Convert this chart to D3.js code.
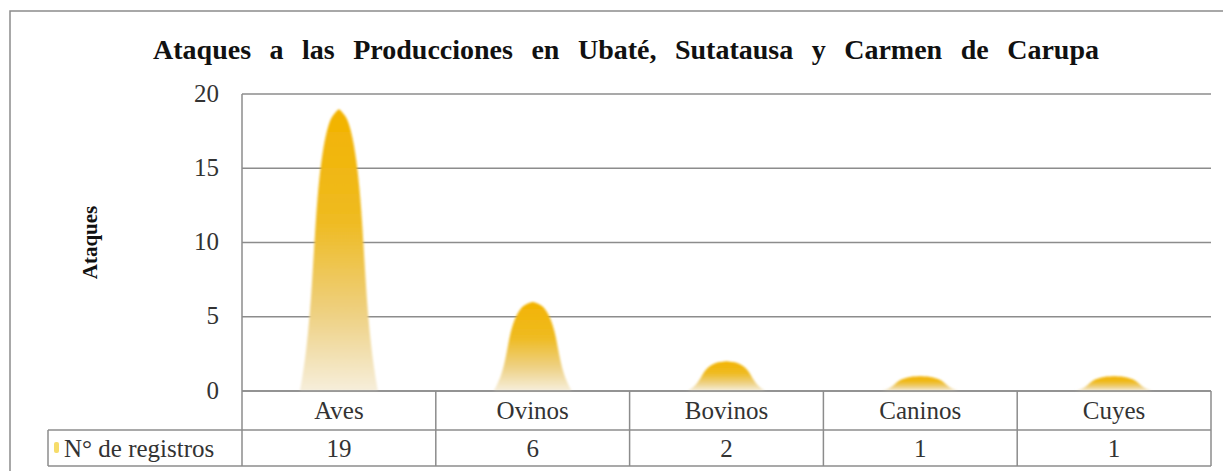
<!DOCTYPE html>
<html>
<head>
<meta charset="utf-8">
<script src="https://cdn.jsdelivr.net/npm/d3@7"></script>
<style>
    body { margin: 0; background: #fff; }
</style>
</head>
<body>
<script>
// data
var categories = ["Aves", "Ovinos", "Bovinos", "Caninos", "Cuyes"];
var registros = [19, 6, 2, 1, 1];
var yTicks = [0, 5, 10, 15, 20];
var seriesName = "N° de registros";
var chartTitle = "Ataques a las Producciones en Ubaté, Sutatausa y Carmen de Carupa";
var yTitle = "Ataques";

var width = 1223, height = 471;
var plot = { left: 242, right: 1211, top: 94, bottom: 391 };
var row1 = 430, row2 = 466, legendLeft = 48;
var serif = "Liberation Serif";

var svg = d3.select("body")
    .append("svg")
    .attr("width", width)
    .attr("height", height)
    .style("font-family", serif)
    .style("display", "block");

// outer frame (cut off at right and bottom like the picture)
svg.append("rect")
    .attr("x", 10).attr("y", 11)
    .attr("width", 1240).attr("height", 500)
    .attr("fill", "none")
    .attr("stroke", "#8c8c8c")
    .attr("stroke-width", 1.5);

svg.append("text")
    .attr("x", 626).attr("y", 59)
    .attr("text-anchor", "middle")
    .style("font-size", "28px")
    .style("font-weight", "bold")
    .style("word-spacing", "11.5px")
    .attr("fill", "#111")
    .text(chartTitle);

var x = d3.scaleBand()
    .domain(categories)
    .range([plot.left, plot.right]);

var y = d3.scaleLinear()
    .domain([0, 20])
    .range([plot.bottom, plot.top]);

// gradient for the peaks
var defs = svg.append("defs");
var grad = defs.append("linearGradient")
    .attr("id", "peak")
    .attr("x1", 0).attr("y1", 0)
    .attr("x2", 0).attr("y2", 1);
grad.append("stop").attr("offset", "0%").attr("stop-color", "#f3b300");
grad.append("stop").attr("offset", "40%").attr("stop-color", "#efbb22");
grad.append("stop").attr("offset", "72%").attr("stop-color", "#eed080");
grad.append("stop").attr("offset", "100%").attr("stop-color", "#f6eedb");

defs.append("filter")
    .attr("id", "soft")
    .append("feGaussianBlur")
    .attr("stdDeviation", 0.8);

// gridlines
svg.append("g")
    .selectAll("line")
    .data(yTicks)
    .enter().append("line")
    .attr("x1", plot.left).attr("x2", plot.right)
    .attr("y1", function (d) { return y(d); })
    .attr("y2", function (d) { return y(d); })
    .attr("stroke", "#8c8c8c")
    .attr("stroke-width", 1.5);

// tick labels
svg.append("g")
    .selectAll("text")
    .data(yTicks)
    .enter().append("text")
    .attr("x", 219)
    .attr("y", function (d) { return y(d); })
    .attr("dy", "0.3em")
    .attr("text-anchor", "end")
    .attr("fill", "#333")
    .style("font-size", "25px")
    .text(function (d) { return d; });

svg.append("text")
    .attr("transform", "translate(97," + ((plot.top + plot.bottom) / 2) + ") rotate(-90)")
    .attr("text-anchor", "middle")
    .style("font-size", "21px")
    .style("font-weight", "bold")
    .attr("fill", "#111")
    .text(yTitle);

// peak shape, base half-width hw, height h
function peakWidth(t) {
    return 0.66 * Math.sqrt(1 - Math.pow(t, 3)) + 0.34 * Math.pow(1 - t, 4);
}

function peakPath(cx, base, h, hw) {
    var pts = [];
    var n = 40;
    for (var i = 0; i <= n; i++) {
        pts.push([cx - hw * peakWidth(i / n), base - h * i / n]);
    }
    for (var j = n; j >= 0; j--) {
        pts.push([cx + hw * peakWidth(j / n), base - h * j / n]);
    }
    return d3.line().curve(d3.curveBasis)(pts) + "Z";
}

svg.append("g")
    .selectAll("path")
    .data(registros)
    .enter().append("path")
    .attr("d", function (d, i) {
        var cx = x(categories[i]) + x.bandwidth() / 2;
        return peakPath(cx, y(0), y(0) - y(d), 39);
    })
    .attr("fill", "url(#peak)")
    .attr("filter", "url(#soft)");

// redraw base line over the peaks
svg.append("line")
    .attr("x1", plot.left).attr("x2", plot.right)
    .attr("y1", y(0)).attr("y2", y(0))
    .attr("stroke", "#8c8c8c")
    .attr("stroke-width", 1.5);

// data table
var table = svg.append("g")
    .attr("stroke", "#8c8c8c")
    .attr("stroke-width", 1.5);

table.append("line")
    .attr("x1", plot.left).attr("x2", plot.left)
    .attr("y1", plot.top).attr("y2", row2);
table.append("line")
    .attr("x1", legendLeft).attr("x2", plot.right)
    .attr("y1", row1).attr("y2", row1);
table.append("line")
    .attr("x1", legendLeft).attr("x2", plot.right)
    .attr("y1", row2).attr("y2", row2);
table.append("line")
    .attr("x1", legendLeft).attr("x2", legendLeft)
    .attr("y1", row1).attr("y2", row2);

table.selectAll(".col")
    .data(categories)
    .enter().append("line")
    .attr("class", "col")
    .attr("x1", function (d) { return x(d) + x.bandwidth(); })
    .attr("x2", function (d) { return x(d) + x.bandwidth(); })
    .attr("y1", plot.bottom).attr("y2", row2);

svg.append("g")
    .selectAll("text")
    .data(categories)
    .enter().append("text")
    .attr("x", function (d) { return x(d) + x.bandwidth() / 2; })
    .attr("y", (plot.bottom + row1) / 2)
    .attr("dy", "0.35em")
    .attr("text-anchor", "middle")
    .attr("fill", "#333")
    .style("font-size", "25px")
    .text(function (d) { return d; });

svg.append("g")
    .selectAll("text")
    .data(registros)
    .enter().append("text")
    .attr("x", function (d, i) { return x(categories[i]) + x.bandwidth() / 2; })
    .attr("y", (row1 + row2) / 2)
    .attr("dy", "0.35em")
    .attr("text-anchor", "middle")
    .attr("fill", "#333")
    .style("font-size", "25px")
    .text(function (d) { return d; });

// legend key
svg.append("rect")
    .attr("x", 54).attr("y", 442)
    .attr("width", 5).attr("height", 11)
    .attr("rx", 2)
    .attr("fill", "#f6dc6a");

svg.append("text")
    .attr("x", 64)
    .attr("y", (row1 + row2) / 2)
    .attr("dy", "0.35em")
    .attr("fill", "#333")
    .style("font-size", "25px")
    .text(seriesName);
</script>
</body>
</html>
